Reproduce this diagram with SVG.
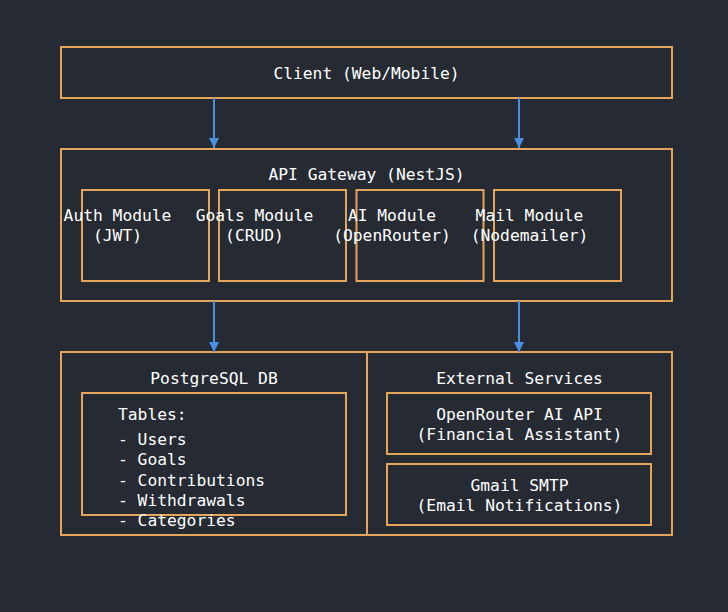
<svg xmlns="http://www.w3.org/2000/svg" width="728" height="612" viewBox="0 0 728 612">
<defs>
<style>
.box{fill:#262a33;stroke:#e5a55a;stroke-width:2}
.t{font-family:"DejaVu Sans Mono","Liberation Mono",monospace;font-size:16.3px;fill:#ffffff}
.c{text-anchor:middle}
.edge{stroke:#4a90e2;stroke-width:2;fill:none;marker-end:url(#ah)}
</style>
<marker id="ah" viewBox="0 0 10 10" refX="10" refY="5" markerWidth="10" markerHeight="10" markerUnits="userSpaceOnUse" orient="auto">
<path d="M0,0 L10,5 L0,10 z" fill="#4a90e2"/>
</marker>
</defs>
<rect width="728" height="612" fill="#262a33"/>
<g id="client">
<rect class="box" x="61" y="47" width="611" height="51"/>
<text class="t c" x="366.5" y="79">Client (Web/Mobile)</text>
</g>
<g id="gateway">
<rect class="box" x="61" y="149" width="611" height="152"/>
<text class="t c" x="366.5" y="180">API Gateway (NestJS)</text>
</g>
<g id="auth">
<rect class="box" x="82" y="190" width="127" height="91"/>
<text class="t c" x="117.5" y="221">Auth Module</text>
<text class="t c" x="117.5" y="241">(JWT)</text>
</g>
<g id="goals">
<rect class="box" x="219" y="190" width="127" height="91"/>
<text class="t c" x="254.5" y="221">Goals Module</text>
<text class="t c" x="254.5" y="241">(CRUD)</text>
</g>
<g id="ai">
<rect class="box" x="356.5" y="190" width="127" height="91"/>
<text class="t c" x="392" y="221">AI Module</text>
<text class="t c" x="392" y="241">(OpenRouter)</text>
</g>
<g id="mail">
<rect class="box" x="494" y="190" width="127" height="91"/>
<text class="t c" x="529.5" y="221">Mail Module</text>
<text class="t c" x="529.5" y="241">(Nodemailer)</text>
</g>
<g id="postgres">
<rect class="box" x="61" y="352" width="306" height="183"/>
<text class="t c" x="214" y="384">PostgreSQL DB</text>
</g>
<g id="tables">
<rect class="box" x="82" y="393" width="264" height="122"/>
<text class="t" x="118" y="420">Tables:</text>
<text class="t" x="118" y="445">- Users</text>
<text class="t" x="118" y="465">- Goals</text>
<text class="t" x="118" y="486">- Contributions</text>
<text class="t" x="118" y="506">- Withdrawals</text>
<text class="t" x="118" y="526">- Categories</text>
</g>
<g id="external">
<rect class="box" x="367" y="352" width="305" height="183"/>
<text class="t c" x="519.5" y="384">External Services</text>
</g>
<g id="openrouter">
<rect class="box" x="387" y="393" width="264" height="61"/>
<text class="t c" x="519.5" y="420">OpenRouter AI API</text>
<text class="t c" x="519.5" y="440">(Financial Assistant)</text>
</g>
<g id="gmail">
<rect class="box" x="387" y="464" width="264" height="61"/>
<text class="t c" x="519.5" y="491">Gmail SMTP</text>
<text class="t c" x="519.5" y="511">(Email Notifications)</text>
</g>
<g id="connectors">
<line class="edge" x1="214" y1="98" x2="214" y2="148"/>
<line class="edge" x1="519" y1="98" x2="519" y2="148"/>
<line class="edge" x1="214" y1="301" x2="214" y2="352"/>
<line class="edge" x1="519" y1="301" x2="519" y2="352"/>
</g>
</svg>
